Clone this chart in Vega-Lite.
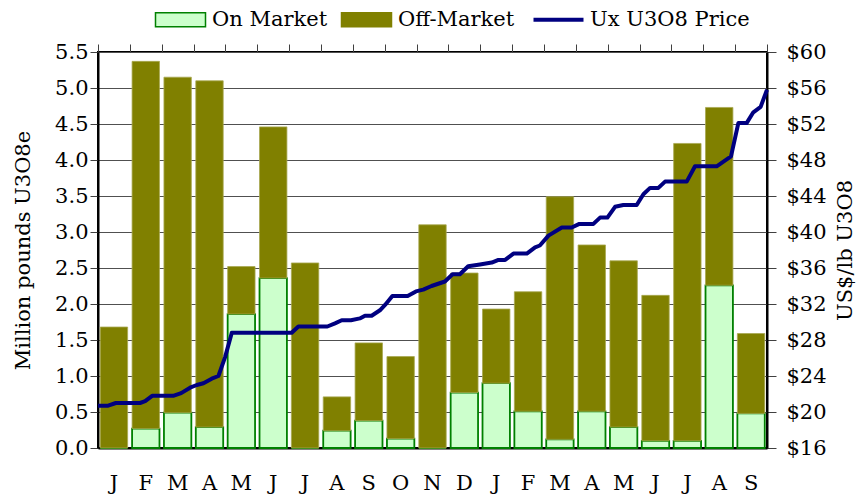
{
  "$schema": "https://vega.github.io/schema/vega-lite/v6.json",
  "width": 669,
  "height": 396,
  "autosize": {"type": "none"},
  "padding": {"left": 98, "top": 52, "right": 98, "bottom": 47},
  "background": "white",
  "config": {
    "font": "DejaVu Serif",
    "view": {"stroke": "black", "strokeWidth": 2}
  },
  "datasets": {
    "bars": [
      {"month": "Jan 2005", "series": "On Market", "value": 0},
      {"month": "Jan 2005", "series": "Off-Market", "value": 1.68},
      {"month": "Feb 2005", "series": "On Market", "value": 0.27},
      {"month": "Feb 2005", "series": "Off-Market", "value": 5.10},
      {"month": "Mar 2005", "series": "On Market", "value": 0.49},
      {"month": "Mar 2005", "series": "Off-Market", "value": 4.66},
      {"month": "Apr 2005", "series": "On Market", "value": 0.29},
      {"month": "Apr 2005", "series": "Off-Market", "value": 4.81},
      {"month": "May 2005", "series": "On Market", "value": 1.86},
      {"month": "May 2005", "series": "Off-Market", "value": 0.66},
      {"month": "Jun 2005", "series": "On Market", "value": 2.36},
      {"month": "Jun 2005", "series": "Off-Market", "value": 2.10},
      {"month": "Jul 2005", "series": "On Market", "value": 0},
      {"month": "Jul 2005", "series": "Off-Market", "value": 2.57},
      {"month": "Aug 2005", "series": "On Market", "value": 0.24},
      {"month": "Aug 2005", "series": "Off-Market", "value": 0.47},
      {"month": "Sep 2005", "series": "On Market", "value": 0.38},
      {"month": "Sep 2005", "series": "Off-Market", "value": 1.08},
      {"month": "Oct 2005", "series": "On Market", "value": 0.13},
      {"month": "Oct 2005", "series": "Off-Market", "value": 1.14},
      {"month": "Nov 2005", "series": "On Market", "value": 0},
      {"month": "Nov 2005", "series": "Off-Market", "value": 3.10},
      {"month": "Dec 2005", "series": "On Market", "value": 0.77},
      {"month": "Dec 2005", "series": "Off-Market", "value": 1.66},
      {"month": "Jan 2006", "series": "On Market", "value": 0.90},
      {"month": "Jan 2006", "series": "Off-Market", "value": 1.03},
      {"month": "Feb 2006", "series": "On Market", "value": 0.51},
      {"month": "Feb 2006", "series": "Off-Market", "value": 1.66},
      {"month": "Mar 2006", "series": "On Market", "value": 0.12},
      {"month": "Mar 2006", "series": "Off-Market", "value": 3.37},
      {"month": "Apr 2006", "series": "On Market", "value": 0.51},
      {"month": "Apr 2006", "series": "Off-Market", "value": 2.31},
      {"month": "May 2006", "series": "On Market", "value": 0.29},
      {"month": "May 2006", "series": "Off-Market", "value": 2.31},
      {"month": "Jun 2006", "series": "On Market", "value": 0.10},
      {"month": "Jun 2006", "series": "Off-Market", "value": 2.02},
      {"month": "Jul 2006", "series": "On Market", "value": 0.10},
      {"month": "Jul 2006", "series": "Off-Market", "value": 4.13},
      {"month": "Aug 2006", "series": "On Market", "value": 2.26},
      {"month": "Aug 2006", "series": "Off-Market", "value": 2.47},
      {"month": "Sep 2006", "series": "On Market", "value": 0.48},
      {"month": "Sep 2006", "series": "Off-Market", "value": 1.11}
    ],
    "price": [
      {"t": 0, "price": 20.7}, {"t": 0.32, "price": 20.7}, {"t": 0.56, "price": 21.0},
      {"t": 1.32, "price": 21.0}, {"t": 1.48, "price": 21.2}, {"t": 1.70, "price": 21.8},
      {"t": 2.36, "price": 21.8}, {"t": 2.61, "price": 22.1}, {"t": 2.89, "price": 22.7},
      {"t": 3.10, "price": 23.0}, {"t": 3.31, "price": 23.2}, {"t": 3.57, "price": 23.7},
      {"t": 3.78, "price": 24.0}, {"t": 3.99, "price": 26.1}, {"t": 4.20, "price": 28.8},
      {"t": 6.08, "price": 28.8}, {"t": 6.29, "price": 29.5}, {"t": 7.2, "price": 29.5},
      {"t": 7.44, "price": 29.85}, {"t": 7.65, "price": 30.2}, {"t": 7.94, "price": 30.2},
      {"t": 8.22, "price": 30.4}, {"t": 8.38, "price": 30.7}, {"t": 8.59, "price": 30.7},
      {"t": 8.85, "price": 31.3}, {"t": 9.01, "price": 31.9}, {"t": 9.24, "price": 32.9},
      {"t": 9.72, "price": 32.9}, {"t": 9.98, "price": 33.4}, {"t": 10.21, "price": 33.6},
      {"t": 10.47, "price": 34.0}, {"t": 10.89, "price": 34.5}, {"t": 11.13, "price": 35.3},
      {"t": 11.36, "price": 35.3}, {"t": 11.62, "price": 36.2}, {"t": 11.99, "price": 36.4},
      {"t": 12.36, "price": 36.6}, {"t": 12.57, "price": 36.9}, {"t": 12.78, "price": 36.9},
      {"t": 13.04, "price": 37.6}, {"t": 13.46, "price": 37.6}, {"t": 13.72, "price": 38.3},
      {"t": 13.87, "price": 38.5}, {"t": 14.14, "price": 39.6}, {"t": 14.56, "price": 40.5},
      {"t": 14.87, "price": 40.5}, {"t": 15.11, "price": 40.9}, {"t": 15.55, "price": 40.9},
      {"t": 15.76, "price": 41.6}, {"t": 15.99, "price": 41.6}, {"t": 16.23, "price": 42.8},
      {"t": 16.49, "price": 43.0}, {"t": 16.91, "price": 43.0}, {"t": 17.12, "price": 44.2},
      {"t": 17.33, "price": 44.9}, {"t": 17.59, "price": 44.9}, {"t": 17.80, "price": 45.6},
      {"t": 18.48, "price": 45.6}, {"t": 18.74, "price": 47.3}, {"t": 19.42, "price": 47.3},
      {"t": 19.87, "price": 48.4}, {"t": 20.10, "price": 52.1}, {"t": 20.36, "price": 52.1},
      {"t": 20.57, "price": 53.3}, {"t": 20.80, "price": 53.9}, {"t": 21.0, "price": 55.8}
    ]
  },
  "layer": [
    {
      "data": {"name": "bars"},
      "mark": {"type": "bar"},
      "encoding": {
        "x": {
          "field": "month",
          "type": "nominal",
          "sort": null,
          "scale": {"paddingInner": 0.14, "paddingOuter": 0.07},
          "axis": {
            "title": null,
            "ticks": false,
            "labelExpr": "slice(datum.value, 0, 1)",
            "labelAngle": 0,
            "labelPadding": 24,
            "domainWidth": 2,
            "domainColor": "black",
            "labelFont": "DejaVu Serif",
            "labelFontSize": 21,
            "labelColor": "black"
          }
        },
        "y": {
          "field": "value",
          "type": "quantitative",
          "stack": "zero",
          "scale": {"domain": [0, 5.5], "nice": false},
          "axis": {
            "title": "Million pounds  U3O8e",
            "values": [0, 0.5, 1, 1.5, 2, 2.5, 3, 3.5, 4, 4.5, 5, 5.5],
            "format": ".1f",
            "tickSize": 8,
            "tickColor": "#404040",
            "labelPadding": 2,
            "grid": true,
            "gridColor": "#505050",
            "gridWidth": 1,
            "domainWidth": 2,
            "domainColor": "black",
            "labelFont": "DejaVu Serif",
            "labelFontSize": 21,
            "labelColor": "black",
            "titleFont": "DejaVu Serif",
            "titleFontSize": 21,
            "titleFontWeight": "normal",
            "titleColor": "black",
            "titlePadding": 21
          }
        },
        "color": {
          "field": "series",
          "type": "nominal",
          "scale": {
            "domain": ["On Market", "Off-Market", "Ux U3O8 Price"],
            "range": ["#CCFFCC", "#808000", "#000080"]
          },
          "legend": {
            "orient": "none",
            "legendX": 72,
            "legendY": -43,
            "direction": "horizontal",
            "title": null,
            "padding": 0,
            "labelFont": "DejaVu Serif",
            "labelFontSize": 21,
            "labelColor": "black",
            "labelOffset": 21,
            "columnPadding": 10,
            "symbolSize": 2500,
            "symbolType": {"expr": "datum.value === 'Ux U3O8 Price' ? 'stroke' : 'M-1,-0.28H1V0.28H-1Z'"},
            "symbolStrokeColor": {"expr": "datum.value === 'On Market' ? '#008000' : datum.value === 'Off-Market' ? '#808000' : '#000080'"},
            "symbolStrokeWidth": {"expr": "datum.value === 'Ux U3O8 Price' ? 4 : 1.5"},
            "symbolOpacity": 1
          }
        },
        "stroke": {
          "condition": {"test": "datum.series === 'On Market'", "value": "#008000"},
          "value": "#a8a850"
        },
        "strokeWidth": {
          "condition": {"test": "datum.series === 'On Market'", "value": 1.8},
          "value": 0.8
        },
        "order": {"field": "series", "sort": "descending"}
      }
    },
    {
      "data": {"name": "price"},
      "mark": {"type": "line", "color": "#000080", "strokeWidth": 4, "strokeJoin": "round"},
      "encoding": {
        "x": {
          "field": "t",
          "type": "quantitative",
          "scale": {"domain": [0, 21], "nice": false, "zero": false},
          "axis": {
            "title": null,
            "values": [0, 1, 2, 3, 4, 5, 6, 7, 8, 9, 10, 11, 12, 13, 14, 15, 16, 17, 18, 19, 20, 21],
            "labels": false,
            "domain": false,
            "grid": false,
            "tickSize": 8,
            "tickColor": "#404040"
          }
        },
        "y": {
          "field": "price",
          "type": "quantitative",
          "scale": {"domain": [16, 60], "nice": false, "zero": false},
          "axis": {
            "orient": "right",
            "title": "US$/lb U3O8",
            "values": [16, 20, 24, 28, 32, 36, 40, 44, 48, 52, 56, 60],
            "labelExpr": "'$' + datum.value",
            "tickSize": 9,
            "tickColor": "#404040",
            "labelPadding": 10,
            "grid": false,
            "domainWidth": 2,
            "domainColor": "black",
            "labelFont": "DejaVu Serif",
            "labelFontSize": 21,
            "labelColor": "black",
            "titleFont": "DejaVu Serif",
            "titleFontSize": 21,
            "titleFontWeight": "normal",
            "titleColor": "black",
            "titleAngle": -90,
            "titleBaseline": "top",
            "titlePadding": 8
          }
        }
      }
    }
  ],
  "resolve": {"scale": {"x": "independent", "y": "independent"}}
}
